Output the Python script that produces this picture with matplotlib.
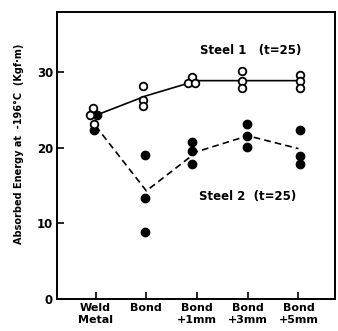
import matplotlib.pyplot as plt

categories = ['Weld\nMetal', 'Bond', 'Bond\n+1mm', 'Bond\n+3mm', 'Bond\n+5mm']

# Steel 1 (open circles): category index, value, small horizontal offset
s1_cat = [0, 0, 0, 1, 1, 1, 2, 2, 2, 3, 3, 3, 4, 4, 4]
s1_val = [25.3, 24.3, 23.1, 28.2, 26.3, 25.5, 29.4, 28.6, 28.6, 30.2, 28.8, 27.9, 29.7, 28.8, 27.9]
s1_dx = [-0.05, -0.11, -0.03, -0.06, -0.06, -0.06, -0.10, -0.18, -0.05, -0.12, -0.12, -0.12, 0.04, 0.04, 0.04]
s1_line = [24.3, 26.9, 28.9, 28.9, 28.9]

# Steel 2 (filled circles)
s2_cat = [0, 0, 1, 1, 1, 2, 2, 2, 3, 3, 3, 4, 4, 4]
s2_val = [24.3, 22.3, 19.0, 13.4, 8.9, 20.8, 19.6, 17.9, 23.1, 21.6, 20.1, 22.4, 18.9, 17.8]
s2_dx = [0.03, -0.03, -0.02, -0.02, -0.02, -0.1, -0.1, -0.1, -0.02, -0.02, -0.02, 0.04, 0.04, 0.04]
s2_line = [22.9, 14.3, 19.5, 21.6, 19.9]

plt.rcParams['font.family'] = 'DejaVu Sans'
plt.rcParams['font.weight'] = 'bold'

fig = plt.figure(figsize=(3.38, 3.31), dpi=100)
ax = fig.add_axes([0.169, 0.097, 0.822, 0.867])

xs = list(range(len(categories)))
ax.plot(xs, s1_line, '-', color='black', lw=1.2, zorder=1)
ax.plot(xs, s2_line, '--', color='black', lw=1.2, dashes=(4, 2.5), zorder=1)

ax.plot([c + d for c, d in zip(s2_cat, s2_dx)], s2_val, 'o', color='black',
        ms=6, zorder=3)
ax.plot([c + d for c, d in zip(s1_cat, s1_dx)], s1_val, 'o', mfc='white',
        mec='black', mew=1.3, ms=5.5, zorder=4)

ax.text(3.05, 32.9, 'Steel 1   (t=25)', ha='center', va='center', fontsize=8.5, fontweight='bold')
ax.text(3.0, 13.6, 'Steel 2  (t=25)', ha='center', va='center', fontsize=8.5, fontweight='bold')

ax.set_xlim(-0.76, 4.72)
ax.set_ylim(0, 38)
ax.set_xticks(xs)
ax.set_xticklabels(categories, fontsize=8, fontweight='bold', linespacing=1.25)
ax.set_yticks([0, 10, 20, 30])
ax.set_yticklabels(['0', '10', '20', '30'], fontsize=8.5, fontweight='bold')
ax.tick_params(direction='in', length=5, width=1.2, pad=3)
ax.set_ylabel('Absorbed Energy at  -196°C  (Kgf·m)', fontsize=7, fontweight='bold')
ax.yaxis.set_label_coords(-0.12, 0.54)
for s in ax.spines.values():
    s.set_linewidth(1.4)

fig.savefig('out.png', dpi=100)
